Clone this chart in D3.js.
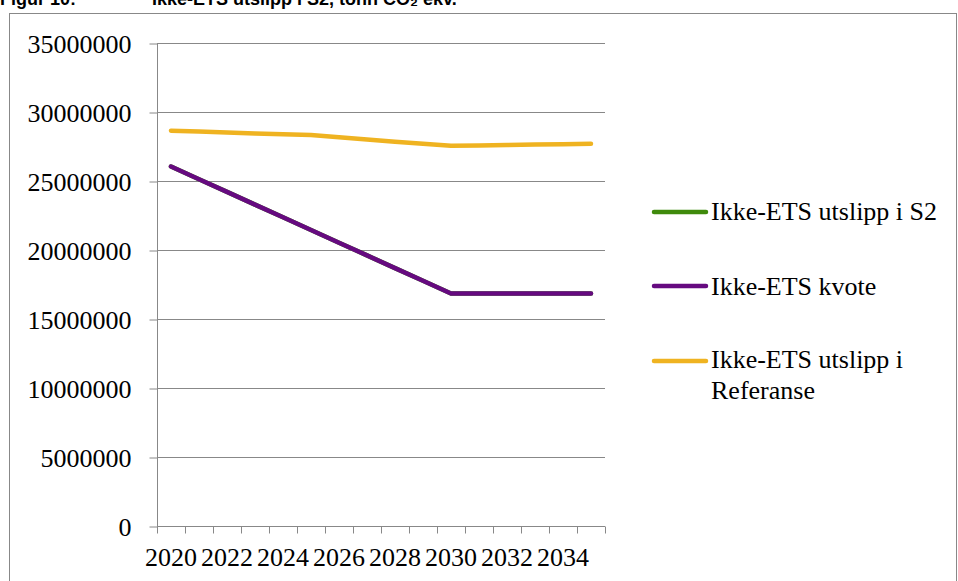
<!DOCTYPE html>
<html><head><meta charset="utf-8">
<script src="https://cdn.jsdelivr.net/npm/d3@7"></script>
<style>body{margin:0;background:#fff}svg{display:block}</style>
</head><body>
<svg id="c" width="958" height="581"></svg>
<script>
const years = [2020,2021,2022,2023,2024,2025,2026,2027,2028,2029,2030,2031,2032,2033,2034,2035];
const xTickLabels = ["2020","2022","2024","2026","2028","2030","2032","2034"];
const yTicks = [0,5000000,10000000,15000000,20000000,25000000,30000000,35000000];
const seriesNames = ["Ikke-ETS utslipp i S2","Ikke-ETS kvote","Ikke-ETS utslipp i Referanse"];
const s2Values = [26050000,25130000,24210000,23290000,22370000,21450000,20530000,19610000,18690000,17770000,16850000,16850000,16850000,16850000,16850000,16850000];
const kvoteValues = [26050000,25130000,24210000,23290000,22370000,21450000,20530000,19610000,18690000,17770000,16850000,16850000,16850000,16850000,16850000,16850000];
const refValues = [28650000,28580000,28520000,28450000,28390000,28330000,28170000,28000000,27850000,27700000,27550000,27580000,27610000,27640000,27670000,27700000];
const colors = ["#3f8a0c","#660a80","#efb321"];

const svg = d3.select("#c");
const serif = "Liberation Serif, Times New Roman, serif";
// title (clipped at top, as in the reference)
svg.append("text").attr("x",0).attr("y",5).attr("font-family","Liberation Sans, Arial").attr("font-weight","bold").attr("font-size",18).text("Figur 10:");
svg.append("text").attr("x",152).attr("y",5).attr("font-family","Liberation Sans, Arial").attr("font-weight","bold").attr("font-size",18).text("Ikke-ETS utslipp i S2, tonn CO\u2082 ekv.");
// chart border
svg.append("rect").attr("x",9.5).attr("y",13.5).attr("width",947).attr("height",600).attr("fill","none").attr("stroke","#888").attr("stroke-width",1);

const L=157, R=605, T=43, B=526;
const x = d3.scaleBand().domain(years).range([L,R]);
const y = d3.scaleLinear().domain([0,35000000]).range([B,T]);
const g = svg.append("g");
g.selectAll("line.grid").data(yTicks).join("line").attr("class","grid")
 .attr("x1",L).attr("x2",R).attr("y1",d=>Math.round(y(d))+0.5).attr("y2",d=>Math.round(y(d))+0.5)
 .attr("stroke","#888").attr("stroke-width",1);
const yAxis = d3.axisLeft(y).tickValues(yTicks).tickSize(8).tickPadding(18).tickFormat(d3.format("d"));
const ya = svg.append("g").attr("transform",`translate(${L+0.5},0.5)`).call(yAxis);
ya.select(".domain").attr("stroke","#888").attr("d",`M0,${T}V${B}`);
ya.selectAll(".tick line").attr("stroke","#888");
ya.selectAll(".tick text").attr("font-family",serif).attr("font-size",26).attr("fill","#000").attr("dy","0.34em");
const xa = svg.append("g").attr("transform",`translate(0,${B+0.5})`);
xa.append("line").attr("x1",L).attr("x2",R).attr("stroke","#888");
const bounds = years.map(d=>x(d)).concat([R]);
xa.selectAll("line.t").data(bounds).join("line").attr("class","t")
 .attr("x1",d=>Math.round(d)+0.5).attr("x2",d=>Math.round(d)+0.5).attr("y1",0).attr("y2",7).attr("stroke","#888");
xa.selectAll("text").data(xTickLabels).join("text")
 .attr("x",d=>x(+d)+x.bandwidth()/2).attr("y",39).attr("text-anchor","middle")
 .attr("font-family",serif).attr("font-size",26).text(d=>d);
const line = d3.line().x((d,i)=>x(years[i])+x.bandwidth()/2).y(d=>y(d));
[s2Values,kvoteValues,refValues].forEach((vals,i)=>{
  svg.append("path").datum(vals).attr("d",line).attr("fill","none").attr("stroke",colors[i])
   .attr("stroke-width",4.5).attr("stroke-linecap","round").attr("stroke-linejoin","round");
});
const legY = [212,286,361];
seriesNames.forEach((n,i)=>{
  svg.append("line").attr("x1",654).attr("x2",706).attr("y1",legY[i]).attr("y2",legY[i])
   .attr("stroke",colors[i]).attr("stroke-width",4.5).attr("stroke-linecap","round");
});
const lt = svg.append("g").attr("font-family",serif).attr("font-size",26);
lt.append("text").attr("x",711).attr("y",220).text("Ikke-ETS utslipp i S2");
lt.append("text").attr("x",711).attr("y",295).text("Ikke-ETS kvote");
lt.append("text").attr("x",711).attr("y",368).text("Ikke-ETS utslipp i");
lt.append("text").attr("x",711).attr("y",399).text("Referanse");
</script>
</body></html>
